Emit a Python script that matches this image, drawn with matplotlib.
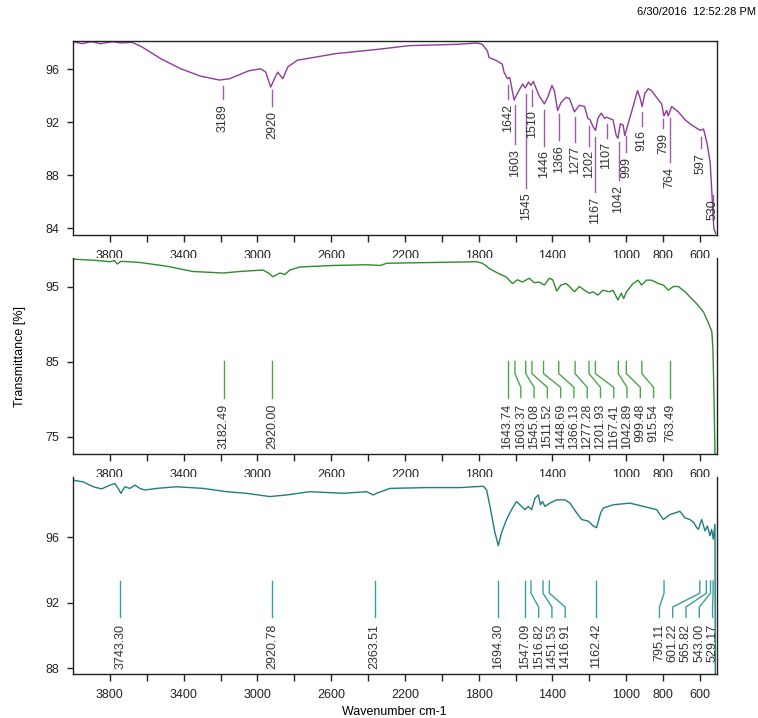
import numpy as np
import matplotlib.pyplot as plt
import matplotlib.transforms as mtransforms
from matplotlib.ticker import FixedLocator, FuncFormatter

plt.rcParams['font.family'] = ['Liberation Sans', 'DejaVu Sans']
plt.rcParams['font.size'] = 9

# spectra: (wavenumber, transmittance %)
top_points = [(4000, 98.1), (3950, 97.95), (3900, 98.1), (3850, 97.95), (3784, 98.1),
              (3740, 98.0), (3680, 98.05), (3626, 97.7), (3522, 96.8), (3415, 96.05),
              (3310, 95.5), (3205, 95.2), (3151, 95.3), (3047, 95.9), (2982, 96.05),
              (2955, 95.8), (2928, 94.67), (2911, 95.2), (2890, 95.8), (2862, 95.3),
              (2835, 96.2), (2783, 96.7), (2573, 97.2), (2360, 97.5), (2176, 97.8),
              (1914, 97.9), (1808, 98.0), (1781, 97.9), (1753, 97.4), (1744, 96.9),
              (1708, 96.7), (1672, 96.4), (1663, 95.8), (1644, 95.3), (1632, 95.4),
              (1608, 93.7), (1590, 94.2), (1562, 94.9), (1548, 94.6), (1530, 95.05),
              (1517, 94.8), (1504, 95.1), (1472, 94.0), (1444, 93.4), (1426, 93.9),
              (1403, 94.8), (1390, 94.4), (1372, 92.9), (1354, 93.5), (1326, 93.9),
              (1308, 93.8), (1281, 92.8), (1254, 93.3), (1226, 93.2), (1208, 92.3),
              (1196, 92.2), (1181, 91.7), (1166, 91.4), (1154, 92.3), (1136, 92.7),
              (1117, 92.3), (1108, 92.4), (1090, 92.3), (1072, 92.2), (1054, 91.0),
              (1045, 90.8), (1032, 91.9), (1017, 91.8), (1008, 91.0), (990, 91.9),
              (963, 93.2), (939, 94.4), (926, 93.9), (914, 93.2), (899, 94.2),
              (881, 94.55), (863, 94.4), (836, 93.9), (808, 93.4), (796, 92.5),
              (781, 92.9), (772, 92.5), (754, 93.2), (718, 92.8), (681, 92.2),
              (645, 91.8), (599, 91.4), (581, 91.5), (563, 90.5), (545, 89.0),
              (535, 86.5), (525, 84.0), (515, 83.6)]
top_peaks = [3189, 2920, 1642, 1603, 1545, 1510, 1446, 1366, 1277, 1202,
             1167, 1107, 1042, 999, 916, 799, 764, 597, 530]

mid_points = [(4000, 98.65), (3892, 98.5), (3840, 98.4), (3800, 98.3), (3775, 98.45),
              (3760, 98.0), (3740, 98.35), (3700, 98.3), (3637, 98.2), (3491, 97.7),
              (3350, 97.0), (3187, 96.8), (3095, 97.0), (2970, 97.2), (2940, 96.8),
              (2916, 96.3), (2878, 96.8), (2851, 96.6), (2824, 97.2), (2770, 97.6),
              (2590, 97.8), (2406, 97.9), (2335, 97.8), (2298, 98.1), (2048, 98.2),
              (1810, 98.3), (1781, 98.1), (1756, 97.7), (1744, 97.4), (1690, 96.7),
              (1653, 96.3), (1617, 95.4), (1590, 95.9), (1563, 95.6), (1526, 96.1),
              (1499, 95.5), (1472, 95.6), (1444, 95.2), (1417, 96.1), (1399, 95.9),
              (1377, 94.4), (1354, 95.2), (1326, 95.4), (1308, 95.0), (1281, 94.3),
              (1254, 95.0), (1226, 94.5), (1199, 94.1), (1181, 94.3), (1154, 93.85),
              (1126, 94.5), (1090, 94.3), (1072, 94.5), (1045, 93.2), (1027, 94.1),
              (1014, 93.4), (999, 94.3), (963, 95.4), (936, 95.85), (917, 95.2),
              (890, 95.85), (863, 95.85), (826, 95.4), (799, 95.2), (772, 94.5),
              (745, 95.0), (718, 95.0), (681, 94.3), (654, 93.6), (618, 92.7),
              (581, 91.6), (554, 90.1), (536, 89.0), (530, 86.6), (524, 80.0),
              (519, 72.8)]
mid_peaks = [3182.49, 2920.00, 1643.74, 1603.37, 1545.08, 1511.52, 1448.69, 1366.13,
             1277.28, 1201.93, 1167.41, 1042.89, 999.48, 915.54, 763.49]

bot_points = [(3999, 99.5), (3945, 99.4), (3890, 99.1), (3845, 98.97), (3800, 99.2),
              (3773, 99.3), (3755, 99.0), (3740, 98.7), (3719, 99.1), (3692, 99.0),
              (3664, 99.2), (3637, 99.0), (3610, 98.9), (3547, 99.0), (3439, 99.1),
              (3294, 99.0), (3167, 98.8), (3059, 98.7), (2932, 98.5), (2842, 98.6),
              (2715, 98.8), (2535, 98.7), (2408, 98.8), (2372, 98.6), (2354, 98.7),
              (2282, 99.0), (2083, 99.05), (1902, 99.05), (1830, 99.1), (1775, 99.13),
              (1757, 98.9), (1739, 97.9), (1712, 96.3), (1694, 95.5), (1676, 96.3),
              (1649, 97.1), (1622, 97.7), (1595, 98.2), (1568, 97.9), (1549, 97.7),
              (1531, 97.9), (1513, 97.7), (1495, 98.4), (1477, 98.6), (1465, 98.0),
              (1454, 98.2), (1441, 97.9), (1414, 98.1), (1378, 98.3), (1332, 98.3),
              (1305, 98.1), (1269, 97.5), (1242, 97.1), (1206, 97.0), (1179, 96.7),
              (1161, 96.6), (1139, 97.5), (1125, 97.8), (1070, 98.0), (980, 98.1),
              (944, 98.0), (871, 97.8), (835, 97.7), (799, 97.1), (763, 97.4),
              (709, 97.6), (682, 97.2), (655, 97.1), (633, 96.9), (618, 96.6),
              (609, 96.5), (591, 97.1), (573, 96.4), (560, 96.7), (546, 96.1),
              (537, 96.5), (528, 95.9), (519, 96.8), (517, 87.3)]
bot_peaks = [3743.30, 2920.78, 2363.51, 1694.30, 1547.09, 1516.82, 1451.53, 1416.91,
             1162.42, 795.11, 601.22, 565.82, 543.00, 529.17]

xtick_labels = [3800, 3400, 3000, 2600, 2200, 1800, 1400, 1000, 800, 600]

# layout: depth of each top-panel label text (text top, in % units)
top_text_y = [93.4, 92.9, 93.4, 90.0, 86.7, 92.9, 89.9, 90.3, 90.2, 89.9,
              86.4, 90.5, 87.3, 89.4, 91.4, 91.2, 88.65, 89.7, 86.2]

purple = '#8e3a9a'
green = '#2f8a2f'
teal = '#1f7c80'

fig = plt.figure(figsize=(7.58, 7.18), dpi=100)
ax1 = fig.add_axes([0.0963, 0.6727, 0.8496, 0.2702])
ax2 = fig.add_axes([0.0963, 0.3677, 0.8496, 0.2730])
ax3 = fig.add_axes([0.0963, 0.0613, 0.8496, 0.2744])


def style_axis(ax, yticks, ylim, top=True):
    ax.set_xlim(4000, 508)
    ax.set_ylim(*ylim)
    ax.xaxis.set_major_locator(FixedLocator(list(range(3800, 500, -200))))
    ax.xaxis.set_major_formatter(FuncFormatter(
        lambda v, p: str(int(round(v))) if int(round(v)) in xtick_labels else ''))
    ax.set_yticks(yticks)
    ax.tick_params(axis='x', direction='out', length=5, width=1, pad=6, colors='#222222')
    ax.tick_params(axis='y', direction='out', length=4, width=1, pad=6, colors='#222222')
    for s in ax.spines.values():
        s.set_color('#222222')
        s.set_linewidth(1.0)
    ax.spines['top'].set_visible(top)


def spread(peaks, gap, right_end):
    # push crowded labels apart along the (inverted) x axis
    t = list(peaks)
    for i in range(1, len(t)):
        t[i] = min(t[i], t[i - 1] - gap)
    t[-1] = max(t[-1], right_end)
    for i in range(len(t) - 2, -1, -1):
        t[i] = max(t[i], t[i + 1] + gap)
    return t


def spread_labels(ax, peaks, color, gap=72):
    tr = mtransforms.blended_transform_factory(ax.transData, ax.transAxes)
    y_top, y_b1, y_b2, y_bot, y_txt = 0.472, 0.41, 0.34, 0.288, 0.255
    pos = spread(peaks, gap, 532)
    for p, t in zip(peaks, pos):
        if abs(p - t) < 1:
            ax.plot([p, p], [y_top, y_bot], color=color, lw=1.0, transform=tr)
        else:
            ax.plot([p, p, t, t], [y_top, y_b1, y_b2, y_bot], color=color, lw=1.0,
                    transform=tr)
        ax.text(t, y_txt, f'{p:.2f}', rotation=90, ha='center', va='top',
                color='#333333', transform=tr, clip_on=False)


# top spectrum
wn, tr_ = np.array(top_points).T
ax1.plot(wn, tr_, color=purple, lw=1.0)
style_axis(ax1, [84, 88, 92, 96], (83.5, 98.15))
order = np.argsort(wn)
for p, ty in zip(top_peaks, top_text_y):
    cy = np.interp(p, wn[order], tr_[order])
    ax1.plot([p, p], [cy - 0.5, ty + 0.35], color='#a05aab', lw=1.0)
    ax1.text(p, ty, str(p), rotation=90, ha='center', va='top', color='#333333')

# middle spectrum
wn, tr_ = np.array(mid_points).T
ax2.plot(wn, tr_, color=green, lw=1.0)
style_axis(ax2, [75, 85, 95], (72.7, 98.8), top=False)
spread_labels(ax2, mid_peaks, '#4aa84a')

# bottom spectrum
wn, tr_ = np.array(bot_points).T
ax3.plot(wn, tr_, color=teal, lw=1.0)
style_axis(ax3, [88, 92, 96], (87.65, 99.7), top=False)
spread_labels(ax3, bot_peaks, '#3a9ea2')

fig.text(0.998, 0.983, '6/30/2016  12:52:28 PM', ha='right', va='center', fontsize=8)
fig.text(0.026, 0.504, 'Transmittance [%]', rotation=90, ha='center', va='center')
fig.text(0.52, 0.008, 'Wavenumber cm-1', ha='center', va='center')

fig.savefig('out.png', dpi=100)
